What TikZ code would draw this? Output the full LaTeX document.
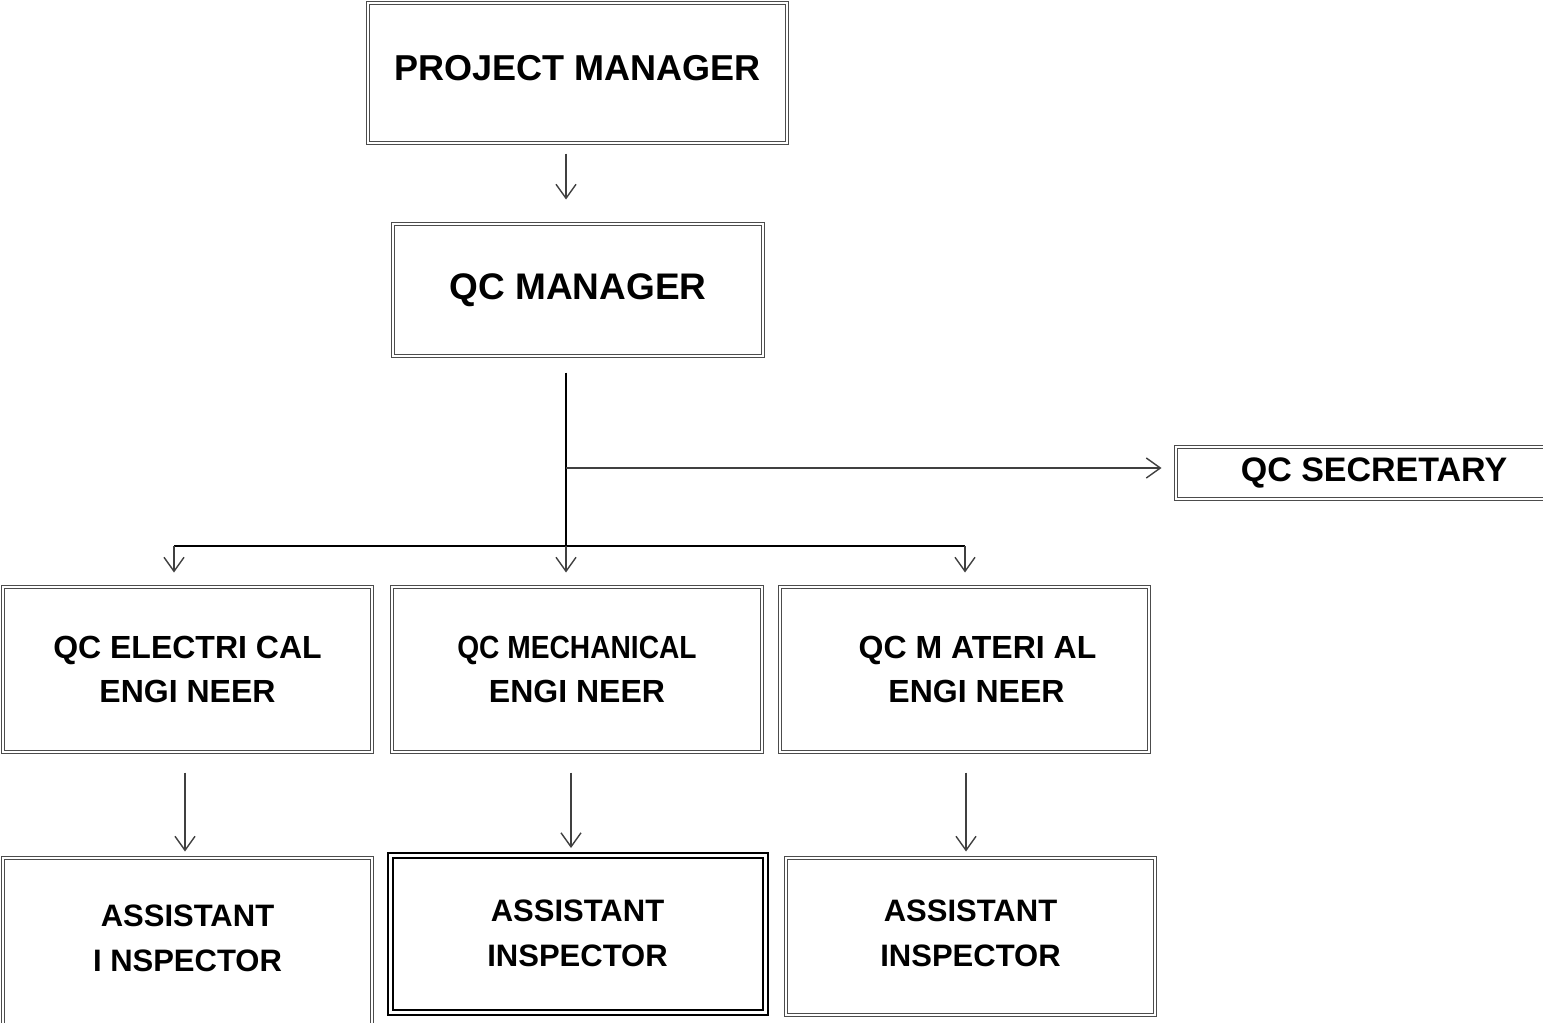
\documentclass[tikz,border=0pt]{standalone}
\usepackage{fontspec}
\setmainfont{Liberation Sans}
\usetikzlibrary{arrows.meta}

\tikzset{
  box/.style={draw=black!70, double, double distance=1pt, line width=0.5pt,
    inner sep=0pt, align=center, font=\bfseries\fontsize{16}{22}\selectfont},
  thickbox/.style={box, draw=black, line width=1pt, double distance=1.5pt},
  arr/.style={draw=black!75, line width=0.7pt, -{Straight Barb[length=7pt,width=10pt]}},
  trunk/.style={draw=black, line width=1pt},
}

\begin{document}
\begin{tikzpicture}[x=0.5pt, y=-0.5pt]
	%%%%% START %%%%%
	\useasboundingbox (0,0) rectangle (1543,1023);
	\clip (0,0) rectangle (1543,1023);
	
	\node[box, minimum width=209.5pt, minimum height=70pt, text depth=5pt, font=\bfseries\fontsize{18}{22}\selectfont] (pm) at (577.5,73) {PROJECT MANAGER};
	\node[box, minimum width=185pt, minimum height=66pt, font=\bfseries\fontsize{18.5}{22}\selectfont] (qcm) at (578,290) {QC MANAGER};
	\node[box, minimum width=198pt, minimum height=26pt, font=\bfseries\fontsize{17}{22}\selectfont] (sec) at (1374,473) {QC SECRETARY};
	
	\node[box, minimum width=184.5pt, minimum height=82.5pt] (elec) at (187.5,669.5) {QC ELECTRI CAL\\ENGI NEER};
	\node[box, minimum width=185pt, minimum height=82.5pt] (mech) at (577,669.5) {\scalebox{0.88}[1]{QC MECHANICAL}\\ENGI NEER};
	\node[box, minimum width=184.5pt, minimum height=82.5pt] (mat) at (964.5,669.5) {\hspace*{13pt}QC M ATERI AL\\\hspace*{12pt}ENGI NEER};
	
	\node[box, minimum width=184.5pt, minimum height=86pt, text depth=6pt, font=\bfseries\fontsize{15.5}{22.5}\selectfont] (asst1) at (187.5,944) {ASSISTANT\\I NSPECTOR};
	\node[thickbox, minimum width=187.5pt, minimum height=78.5pt, font=\bfseries\fontsize{15.5}{22.5}\selectfont] (asst2) at (577.5,933.5) {ASSISTANT\\INSPECTOR};
	\node[box, minimum width=184.5pt, minimum height=78.5pt, text depth=3pt, font=\bfseries\fontsize{15.5}{22.5}\selectfont] (asst3) at (970.5,936.5) {ASSISTANT\\INSPECTOR};
	
	\coordinate (tee) at (566,468);
	\coordinate (split) at (566,546);
	\coordinate (bl) at (174,546);
	\coordinate (br) at (965,546);
	\coordinate (c1) at (185,0);
	\coordinate (c2) at (571,0);
	\coordinate (c3) at (966,0);
	
	\draw[arr, shorten <=5pt, shorten >=12pt] (pm.south -| split) -- (qcm.north -| split);
	\draw[trunk, shorten <=8pt] (qcm.south -| split) -- (split);
	\draw[arr, shorten >=7pt] (tee) -- (sec.west |- tee);
	\draw[line width=0.7pt] (bl) -- (br);
	
	\draw[arr, shorten >=7pt] (bl) -- (elec.north -| bl);
	\draw[arr, shorten >=7pt] (split) -- (mech.north -| split);
	\draw[arr, shorten >=7pt] (br) -- (mat.north -| br);
	
	\draw[arr, shorten <=10pt, shorten >=3pt] (elec.south -| c1) -- (asst1.north -| c1);
	\draw[arr, shorten <=10pt, shorten >=3pt] (mech.south -| c2) -- (asst2.north -| c2);
	\draw[arr, shorten <=10pt, shorten >=3pt] (mat.south -| c3) -- (asst3.north -| c3);
	
	%%%%% END %%%%%
\end{tikzpicture}
\end{document}
